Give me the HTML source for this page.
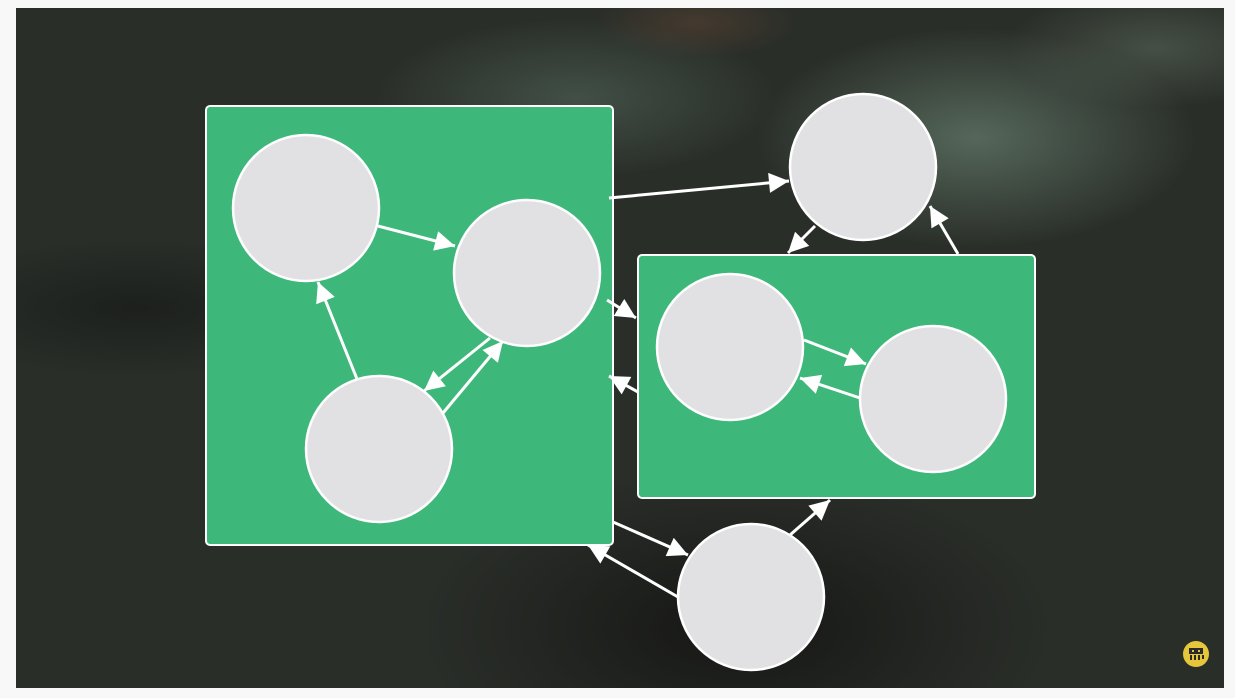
<!DOCTYPE html>
<html><head><style>
html,body{margin:0;padding:0;background:#f8f8f8;width:1235px;height:698px;overflow:hidden}
#bg{position:absolute;left:16px;top:8px;width:1208px;height:680px;
background:
radial-gradient(ellipse 220px 110px at 960px 130px, rgba(120,150,130,0.55), rgba(0,0,0,0)),
radial-gradient(ellipse 200px 80px at 560px 90px, rgba(100,130,115,0.4), rgba(0,0,0,0)),
radial-gradient(ellipse 150px 60px at 1140px 40px, rgba(110,130,110,0.4), rgba(0,0,0,0)),
radial-gradient(ellipse 320px 160px at 720px 620px, rgba(10,8,8,0.6), rgba(0,0,0,0)),
radial-gradient(ellipse 220px 70px at 120px 300px, rgba(15,18,16,0.5), rgba(0,0,0,0)),
radial-gradient(ellipse 100px 35px at 680px 15px, rgba(110,75,55,0.4), rgba(0,0,0,0)),
#2a2e29;}
svg{position:absolute;left:0;top:0}
</style></head><body>
<div id="bg"></div>
<svg width="1235" height="698" viewBox="0 0 1235 698">
<defs>
<marker id="m" viewBox="0 0 10 10" refX="10" refY="5" markerWidth="32" markerHeight="20" markerUnits="userSpaceOnUse" orient="auto"><path d="M0,0L10,5L0,10z" fill="#fff"/></marker></defs>
<rect x="206" y="106" width="407" height="439" rx="4" fill="#3db87a" stroke="#fff" stroke-width="2"/>
<rect x="638" y="255" width="397" height="243" rx="4" fill="#3db87a" stroke="#fff" stroke-width="2"/>
<g stroke="#fff" stroke-width="3" fill="none" marker-end="url(#m)">
<line x1="378" y1="226" x2="455" y2="246"/>
<line x1="357" y1="379" x2="318" y2="282"/>
<line x1="490" y1="338" x2="424" y2="391"/>
<line x1="443" y1="413" x2="503" y2="341"/>
<line x1="609" y1="198" x2="789" y2="181"/>
<line x1="815" y1="226" x2="788" y2="253"/>
<line x1="958" y1="254" x2="930" y2="206"/>
<line x1="607" y1="300" x2="636" y2="318"/>
<line x1="638" y1="392" x2="609" y2="376"/>
<line x1="804" y1="340" x2="866" y2="364"/>
<line x1="860" y1="398" x2="800" y2="378"/>
<line x1="613" y1="522" x2="688" y2="555"/>
<line x1="678" y1="597" x2="588" y2="545"/>
<line x1="790" y1="535" x2="830" y2="500"/>
</g>
<g fill="#e1e0e3" stroke="#fff" stroke-width="2.5">
<circle cx="306" cy="208" r="73"/>
<circle cx="527" cy="273" r="73"/>
<circle cx="379" cy="449" r="73"/>
<circle cx="863" cy="167" r="73"/>
<circle cx="730" cy="347" r="73"/>
<circle cx="933" cy="399" r="73"/>
<circle cx="751" cy="597" r="73"/>
</g>
<circle cx="1196" cy="654" r="13" fill="#e6c63a"/>
<g fill="#2a2a2a"><rect x="1189" y="648" width="14" height="6"/><rect x="1190" y="655" width="2" height="5"/><rect x="1194" y="655" width="2" height="5"/><rect x="1198" y="655" width="2" height="5"/><rect x="1202" y="655" width="2" height="4"/></g>
<g fill="#e6c63a"><rect x="1192" y="650" width="2" height="2"/><rect x="1198" y="650" width="2" height="2"/></g>
</svg>
</body></html>
